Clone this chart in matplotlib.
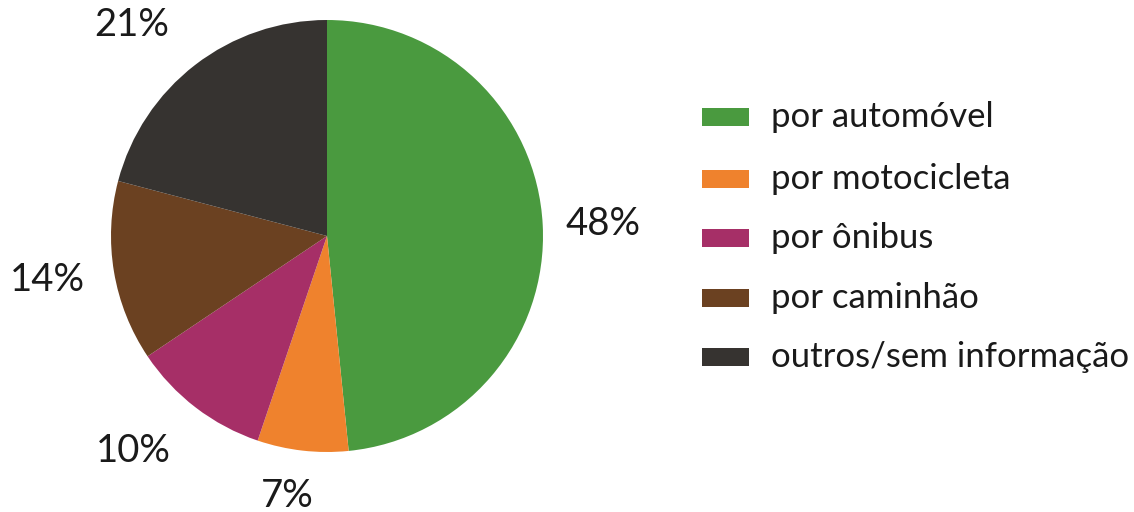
import matplotlib
matplotlib.use("Agg")
import matplotlib.pyplot as plt
from matplotlib.patches import Rectangle

categories = ["por automóvel", "por motocicleta", "por ônibus", "por caminhão", "outros/sem informação"]
values = [48.4, 6.8, 10.4, 13.5, 20.9]
pct_labels = ["48%", "7%", "10%", "14%", "21%"]
colors = ["#4a9a3f", "#ef822d", "#a62f67", "#6b4121", "#363330"]

# label anchor positions (in pie-radius units, relative to centre) – styling only
label_pos = [(1.278, 0.056), (-0.185, -1.204), (-0.898, -0.995), (-1.296, -0.204), (-0.903, 0.977)]

plt.rcParams['font.family'] = ['Lato', 'DejaVu Sans']

W, H = 1134, 512
fig = plt.figure(figsize=(W / 100, H / 100), dpi=100)
fig.patch.set_facecolor("white")

cx, cy, r = 327, 512 - 236, 216
ax = fig.add_axes([(cx - r) / W, (cy - r) / H, 2 * r / W, 2 * r / H])
wedges, texts = ax.pie(values, colors=colors, startangle=90, counterclock=False,
                       labels=pct_labels, radius=1,
                       wedgeprops=dict(linewidth=0),
                       textprops=dict(fontsize=27.5, color="#1a1a1a"))
for t, (lx, ly) in zip(texts, label_pos):
    t.set_position((lx, ly))
    t.set_ha("center")
    t.set_va("center")
    t.set_clip_on(False)
ax.set_xlim(-1, 1)
ax.set_ylim(-1, 1)
ax.set_aspect("equal")
ax.axis("off")

# legend
lax = fig.add_axes([0, 0, 1, 1])
lax.set_xlim(0, W)
lax.set_ylim(H, 0)
lax.axis("off")
row_y = [117, 179, 238, 298, 357]
for yy, c, lab in zip(row_y, colors, categories):
    lax.add_patch(Rectangle((702, yy - 9), 47, 18, color=c, lw=0))
    lax.text(771, yy, lab, fontsize=25, va="center", ha="left", color="#1a1a1a")

fig.savefig("out.png", dpi=100)
